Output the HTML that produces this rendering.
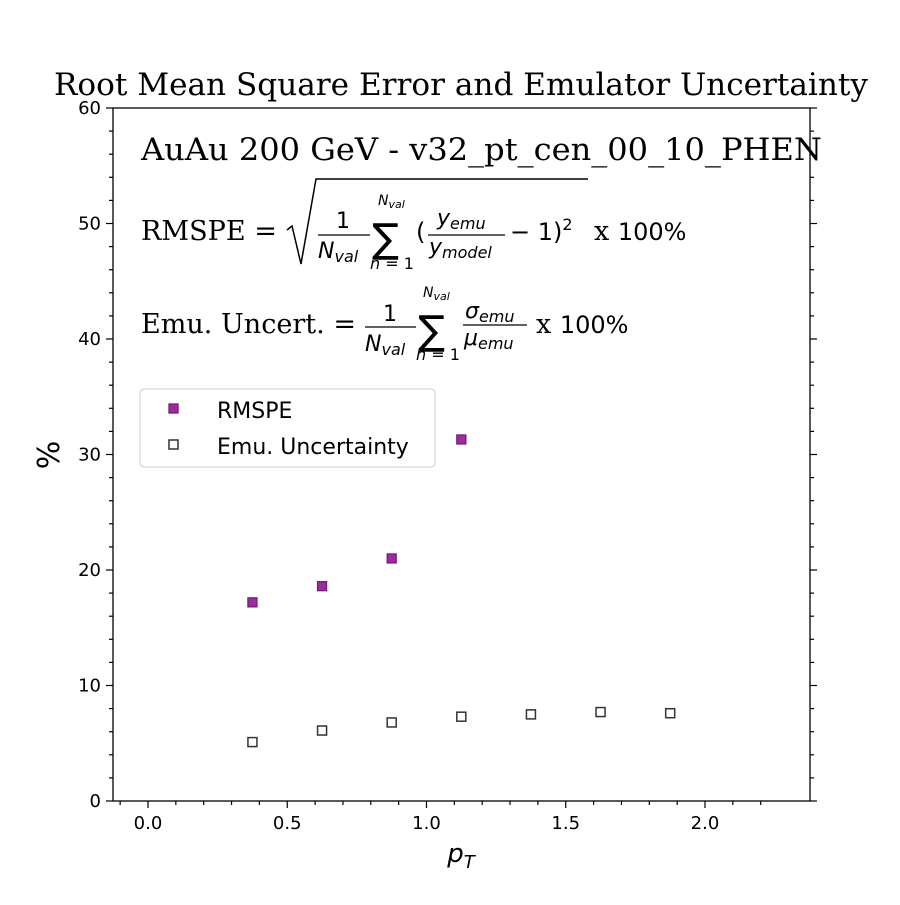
<!DOCTYPE html>
<html><head><meta charset="utf-8"><style>
body{margin:0;background:#fff}
svg text{fill:#000}
.ser{font-family:"DejaVu Serif","Liberation Serif",serif}
.sans{font-family:"DejaVu Sans","Liberation Sans",sans-serif}
</style></head><body>
<svg id="chart" width="900" height="900" xmlns="http://www.w3.org/2000/svg">
<rect width="900" height="900" fill="#fff"/>
<text class="ser" x="54" y="95" font-size="31" textLength="814" lengthAdjust="spacingAndGlyphs">Root Mean Square Error and Emulator Uncertainty</text>
<g id="axes"></g>
<g id="marks"></g>
<text class="ser" x="141" y="160" font-size="31" textLength="681" lengthAdjust="spacingAndGlyphs">AuAu 200 GeV  -  v32_pt_cen_00_10_PHEN</text>
<g font-size="24">
<text class="ser" x="141" y="240" font-size="27" textLength="136" lengthAdjust="spacingAndGlyphs">RMSPE =</text>
<path d="M287 230 l5 -4 l9 38 l15 -85 h272" fill="none" stroke="#000" stroke-width="1.5"/>
<text class="sans" x="343" y="228" font-size="22" text-anchor="middle">1</text>
<line x1="318" y1="235" x2="370" y2="235" stroke="#000" stroke-width="1.3"/>
<text class="sans" x="318" y="258" font-size="22" font-style="italic">N<tspan font-size="16" dy="4">val</tspan></text>
<text class="sans" x="378" y="205" font-size="14" font-style="italic">N<tspan font-size="11" dy="3">val</tspan></text>
<text class="sans" x="372" y="252" font-size="40">∑</text>
<text class="sans" x="370" y="269" font-size="16" font-style="italic">n<tspan font-style="normal"> = 1</tspan></text>
<text class="sans" x="416" y="240" font-size="24">(</text>
<text class="sans" x="437" y="225" font-size="22" font-style="italic">y<tspan font-size="16" dy="4">emu</tspan></text>
<line x1="428" y1="235" x2="505" y2="235" stroke="#000" stroke-width="1.3"/>
<text class="sans" x="429" y="254" font-size="22" font-style="italic">y<tspan font-size="16" dy="4">model</tspan></text>
<text class="sans" x="510" y="240" font-size="24">− 1)<tspan font-size="16" dy="-10">2</tspan></text>
<text x="594" y="240"><tspan class="ser" font-size="27">x </tspan><tspan class="sans">100%</tspan></text>
</g>
<g font-size="24">
<text class="ser" x="141" y="333" font-size="27" textLength="215" lengthAdjust="spacingAndGlyphs">Emu. Uncert. =</text>
<text class="sans" x="390" y="321" font-size="22" text-anchor="middle">1</text>
<line x1="365" y1="327" x2="416" y2="327" stroke="#000" stroke-width="1.3"/>
<text class="sans" x="365" y="351" font-size="22" font-style="italic">N<tspan font-size="16" dy="4">val</tspan></text>
<text class="sans" x="423" y="297" font-size="14" font-style="italic">N<tspan font-size="11" dy="3">val</tspan></text>
<text class="sans" x="418" y="344" font-size="40">∑</text>
<text class="sans" x="416" y="360" font-size="16" font-style="italic">n<tspan font-style="normal"> = 1</tspan></text>
<text class="sans" x="465" y="318" font-size="22" font-style="italic">σ<tspan font-size="16" dy="4">emu</tspan></text>
<line x1="463" y1="325" x2="527" y2="325" stroke="#000" stroke-width="1.3"/>
<text class="sans" x="464" y="345" font-size="22" font-style="italic">μ<tspan font-size="16" dy="4">emu</tspan></text>
<text x="536" y="333"><tspan class="ser" font-size="27">x </tspan><tspan class="sans">100%</tspan></text>
</g>
<g>
<rect x="140" y="389" width="295" height="78" rx="4" fill="#fff" stroke="#ccc" stroke-width="1"/>
<rect x="169" y="404" width="9" height="9" fill="#9b2d9b" stroke="#7a1a7a" stroke-width="1.3"/>
<text class="sans" x="217" y="418" font-size="22">RMSPE</text>
<rect x="169" y="440" width="9" height="9" fill="#fff" stroke="#333" stroke-width="1.5"/>
<text class="sans" x="217" y="454" font-size="22">Emu. Uncertainty</text>
</g>
<text class="sans" x="461" y="862" font-size="26" font-style="italic" text-anchor="middle">p<tspan font-size="18" dy="6">T</tspan></text>
<text class="sans" x="0" y="0" font-size="30" text-anchor="middle" transform="translate(59,455) rotate(-90)">%</text>
</svg>
<script>
const rmspeX=[0.375,0.625,0.875,1.125];
const rmspeY=[17.2,18.6,21.0,31.3];
const emuX=[0.375,0.625,0.875,1.125,1.375,1.625,1.875];
const emuY=[5.1,6.1,6.8,7.3,7.5,7.7,7.6];
const xTicks=["0.0","0.5","1.0","1.5","2.0"];
const yTicks=["0","10","20","30","40","50","60"];
const NS="http://www.w3.org/2000/svg";
const L=113,R=810,T=108,B=801;
function sx(v){return 148+v*278.5;}
function sy(v){return B-(v/60)*(B-T);}
function mk(tag,attrs,parent){const e=document.createElementNS(NS,tag);for(const k in attrs)e.setAttribute(k,attrs[k]);parent.appendChild(e);return e;}
const ax=document.getElementById('axes'),mg=document.getElementById('marks');
const frame=mk('rect',{x:L,y:T,width:R-L,height:B-T,fill:'none',stroke:'#000','stroke-width':1.3},ax);


for(let i=-1;i<=22;i++){const v=i/10;const x=sx(v);if(x<L||x>R)continue;const major=i%5===0;
 mk('line',{x1:x,y1:B,x2:x,y2:B+(major?7:4),stroke:'#000','stroke-width':1.2},ax);}
xTicks.forEach(t=>{const tx=mk('text',{x:sx(parseFloat(t)),y:B+28,'font-size':18,'text-anchor':'middle',class:'sans'},ax);tx.textContent=t;
 
 });
for(let v=0;v<=60;v+=2){const y=sy(v);const major=v%10===0;
 mk('line',{x1:L,y1:y,x2:L-(major?7:4),y2:y,stroke:'#000','stroke-width':1.2},ax);
 mk('line',{x1:R,y1:y,x2:R+(major?7:4),y2:y,stroke:'#000','stroke-width':1.2},ax);}
yTicks.forEach(t=>{const tx=mk('text',{x:L-12,y:sy(parseFloat(t))+6,'font-size':18,'text-anchor':'end',class:'sans'},ax);tx.textContent=t;
 
 });
emuX.forEach((x,i)=>{const r=mk('rect',{x:sx(x)-4.5,y:sy(emuY[i])-4.5,width:9,height:9,fill:'#fff',stroke:'#333','stroke-width':1.5},mg);
 
 });
rmspeX.forEach((x,i)=>{const r=mk('rect',{x:sx(x)-4.5,y:sy(rmspeY[i])-4.5,width:9,height:9,fill:'#9b2d9b',stroke:'#7a1a7a','stroke-width':1.3},mg);
 
 });
</script>
</body></html>
